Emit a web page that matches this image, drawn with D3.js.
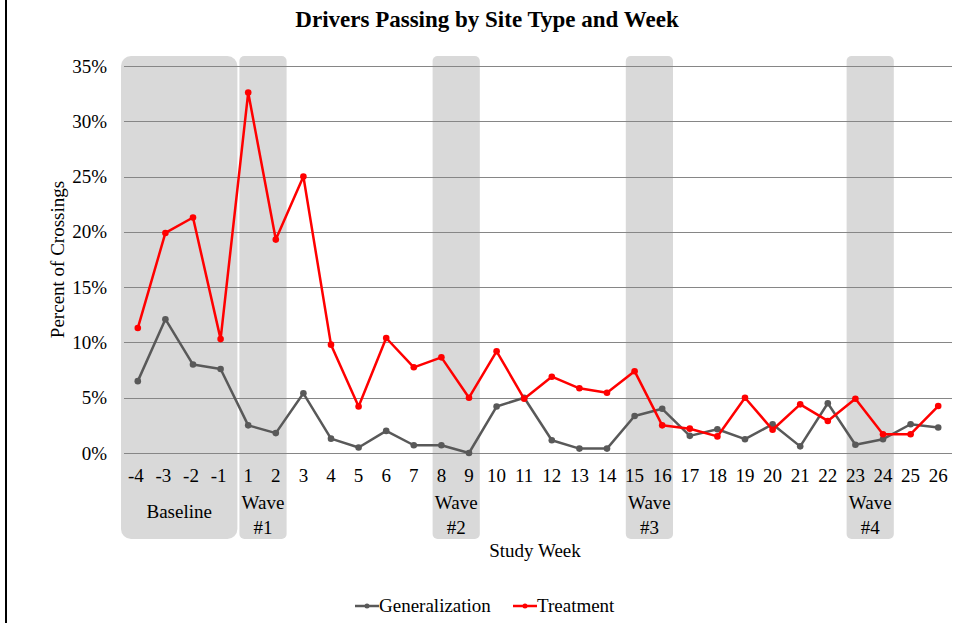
<!DOCTYPE html>
<html>
<head>
<meta charset="utf-8">
<script src="https://cdn.jsdelivr.net/npm/d3@7"></script>
<style>
 body { margin: 0; background: #fff; }
 svg text { font-family: "Liberation Serif", "Times New Roman", serif; fill: #000; }
</style>
</head>
<body>
<svg id="graph"></svg>
<script>
// study weeks on the x axis
var weeks = ["-4", "-3", "-2", "-1", "1", "2", "3", "4", "5", "6", "7", "8", "9", "10",
 "11", "12", "13", "14", "15", "16", "17", "18", "19", "20", "21", "22", "23", "24", "25", "26"];

// percent of crossings
var generalization = [6.5, 12.1, 8.0, 7.6, 2.5, 1.8, 5.4, 1.3, 0.5, 2.0, 0.7, 0.7, 0.0, 4.2,
 5.0, 1.15, 0.4, 0.4, 3.35, 4.0, 1.55, 2.15, 1.25, 2.6, 0.6, 4.5, 0.75, 1.25, 2.6, 2.3];
var treatment = [11.3, 19.9, 21.3, 10.3, 32.6, 19.3, 25.0, 9.8, 4.2, 10.4, 7.75, 8.65, 5.0, 9.2,
 4.9, 6.9, 5.85, 5.45, 7.4, 2.5, 2.2, 1.5, 5.0, 2.1, 4.4, 2.9, 4.9, 1.7, 1.7, 4.25];

var yTicks = [0, 5, 10, 15, 20, 25, 30, 35];

// shaded periods: first week, last week, label lines
var periodStart = ["-4", "1", "8", "15", "23"];
var periodEnd = ["-1", "2", "9", "16", "24"];
var periodLabels = [["Baseline"], ["Wave", "#1"], ["Wave", "#2"], ["Wave", "#3"], ["Wave", "#4"]];

var seriesNames = ["Generalization", "Treatment"];
var seriesColors = ["#595959", "#ff0000"];

function drawChart() {
 var width = 957, height = 623;
 var plotLeft = 124, plotRight = 952, plotTop = 66, plotBottom = 453;
 var fs = "19px";

 var svg = d3.select("#graph").attr("width", width).attr("height", height);

 // black frame line on the left edge
 svg.append("line")
 .attr("x1", 6).attr("x2", 6).attr("y1", 0).attr("y2", height)
 .attr("stroke", "#000").attr("stroke-width", 2);

 var scaleX = d3.scaleBand().domain(weeks).range([plotLeft, plotRight]);
 var scaleY = d3.scaleLinear().domain([0, 35]).range([plotBottom, plotTop]);
 var bw = scaleX.bandwidth();
 var cx = function(w) { return scaleX(w) + bw / 2; };

 // shaded boxes
 periodStart.forEach(function(s, i) {
 var e = periodEnd[i];
 var isBase = i == 0;
 var x0 = isBase ? scaleX(s) - 3 : scaleX(s) + 5;
 var x1 = isBase ? scaleX(e) + bw + 3 : scaleX(e) + bw - 3;
 svg.append("rect")
 .attr("x", x0).attr("y", 56)
 .attr("width", x1 - x0).attr("height", 539 - 56)
 .attr("rx", isBase ? 10 : 5)
 .attr("fill", "#d9d9d9");
 var lines = periodLabels[i];
 lines.forEach(function(l, j) {
 svg.append("text")
 .attr("x", (x0 + x1) / 2)
 .attr("y", lines.length == 1 ? 518 : 509 + j * 25)
 .attr("text-anchor", "middle")
 .style("font-size", fs)
 .text(l);
 });
 });

 // grid lines + y labels
 svg.selectAll(".grid")
 .data(yTicks).enter()
 .append("line")
 .attr("x1", plotLeft).attr("x2", plotRight)
 .attr("y1", function(d) { return Math.round(scaleY(d)) + 0.5; })
 .attr("y2", function(d) { return Math.round(scaleY(d)) + 0.5; })
 .attr("stroke", "#868686").attr("stroke-width", 1);

 svg.selectAll(".ylab")
 .data(yTicks).enter()
 .append("text")
 .attr("x", 107)
 .attr("y", function(d) { return scaleY(d) + 6.5; })
 .attr("text-anchor", "end")
 .style("font-size", fs)
 .text(function(d) { return d + "%"; });

 // x labels
 svg.selectAll(".xlab")
 .data(weeks).enter()
 .append("text")
 .attr("x", function(d) { return cx(d) - (d.charAt(0) == "-" ? 2 : 0); })
 .attr("y", 482)
 .attr("text-anchor", "middle")
 .style("font-size", fs)
 .text(function(d) { return d; });

 // lines
 var line = d3.line()
 .x(function(d, i) { return cx(weeks[i]); })
 .y(function(d) { return scaleY(d); });

 [generalization, treatment].forEach(function(vals, k) {
 svg.append("path")
 .datum(vals)
 .attr("d", line)
 .attr("fill", "none")
 .attr("stroke", seriesColors[k])
 .attr("stroke-width", 2.5)
 .attr("stroke-linejoin", "round");
 svg.selectAll(".dot" + k)
 .data(vals).enter()
 .append("circle")
 .attr("cx", function(d, i) { return cx(weeks[i]); })
 .attr("cy", function(d) { return scaleY(d); })
 .attr("r", 3.3)
 .attr("fill", seriesColors[k]);
 });

 // titles
 svg.append("text")
 .attr("x", 487).attr("y", 27)
 .attr("text-anchor", "middle")
 .style("font-size", "23px").style("font-weight", "bold")
 .text("Drivers Passing by Site Type and Week");

 svg.append("text")
 .attr("x", 535).attr("y", 557)
 .attr("text-anchor", "middle")
 .style("font-size", fs)
 .text("Study Week");

 svg.append("text")
 .attr("transform", "translate(64," + ((plotTop + plotBottom) / 2) + ") rotate(-90)")
 .attr("text-anchor", "middle")
 .style("font-size", fs)
 .text("Percent of Crossings");

 // legend
 var legX = [355, 513];
 seriesNames.forEach(function(n, k) {
 var g = svg.append("g").attr("transform", "translate(" + legX[k] + ",606)");
 g.append("line").attr("x1", 0).attr("x2", 24).attr("y1", 0).attr("y2", 0)
 .attr("stroke", seriesColors[k]).attr("stroke-width", 2.5);
 g.append("circle").attr("cx", 12).attr("cy", 0).attr("r", 2.5).attr("fill", seriesColors[k]);
 g.append("text").attr("x", 24).attr("y", 6).style("font-size", fs).text(n);
 });
}

drawChart();
</script>
</body>
</html>
